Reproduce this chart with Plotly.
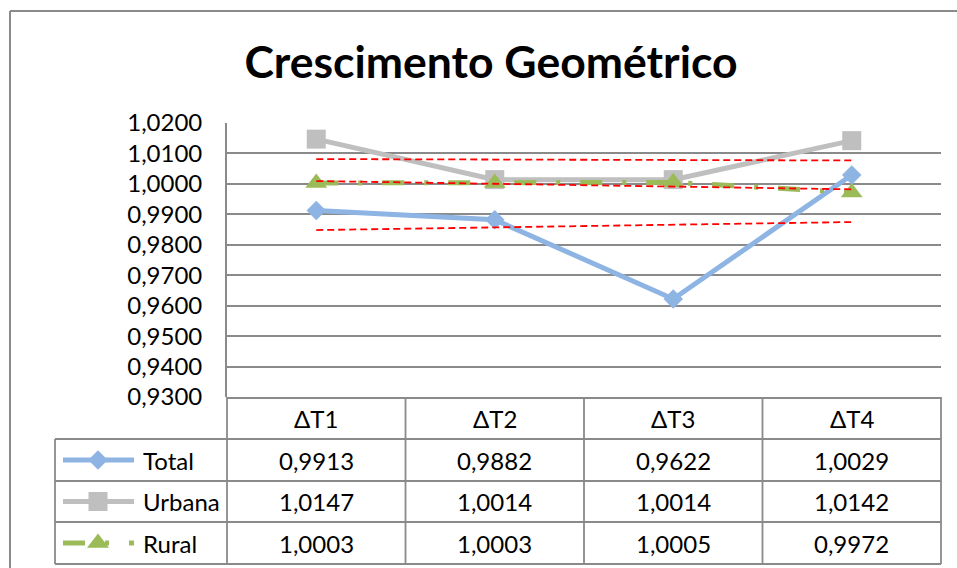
import numpy as np
import plotly.graph_objects as go

# ---------------- data ----------------
categories = ["ΔT1", "ΔT2", "ΔT3", "ΔT4"]
series_names = ["Total", "Urbana", "Rural"]
total = [0.9913, 0.9882, 0.9622, 1.0029]
urbana = [1.0147, 1.0014, 1.0014, 1.0142]
rural = [1.0003, 1.0003, 1.0005, 0.9972]
y_min, y_max, y_step = 0.93, 1.02, 0.01
title_text = "Crescimento Geométrico"

# ---------------- styles / geometry ----------------
W, H = 957, 568
PL, PR, PT, PB = 227, 941, 123, 397          # plot area (px)
ROWS = [398, 439, 481, 522, 564]              # table horizontal lines (px)
LEG_L = 55                                    # left edge of legend column
FONT = "Lato, 'Open Sans', sans-serif"
GRID = "#8A8A8A"
TXT = 24

styles = {
    "Total": dict(color="#8EB4E3", dash="solid", symbol="diamond", size=15),
    "Urbana": dict(color="#BFBFBF", dash="solid", symbol="square", size=19),
    "Rural": dict(color="#9BBB59", dash="22px,20px,4px,20px", symbol="triangle-up", size=19),
}
values = {"Total": total, "Urbana": urbana, "Rural": rural}


def fx(px):
    return px / W


def fy(py):
    return 1 - py / H


fig = go.Figure()

# series
for name in series_names:
    st = styles[name]
    fig.add_trace(go.Scatter(
        x=categories, y=values[name], name=name, mode="lines+markers",
        line=dict(color=st["color"], width=5, dash=st["dash"]),
        marker=dict(symbol=st["symbol"], size=st["size"], color=st["color"]),
        cliponaxis=False, showlegend=False,
    ))

# linear trendlines (computed from the data)
xi = np.arange(1, len(categories) + 1)
for name in series_names:
    coef = np.polyfit(xi, values[name], 1)
    fit = np.polyval(coef, xi)
    fig.add_trace(go.Scatter(
        x=categories, y=fit, name="Linear (" + name + ")", mode="lines",
        line=dict(color="#FF0000", width=1.8, dash="7px,4px"),
        showlegend=False, hoverinfo="skip",
    ))

# legend glyphs inside the data table (second axes over legend column)
row_mid = [(ROWS[i + 1] + ROWS[i + 2]) / 2 for i in range(3)]
for name, ym in zip(series_names, row_mid):
    st = styles[name]
    fig.add_trace(go.Scatter(
        x=[63, 134], y=[ym, ym], mode="lines", xaxis="x2", yaxis="y2",
        line=dict(color=st["color"], width=5, dash=st["dash"]),
        showlegend=False, hoverinfo="skip", cliponaxis=False,
    ))
    fig.add_trace(go.Scatter(
        x=[98], y=[ym], mode="markers", xaxis="x2", yaxis="y2",
        marker=dict(symbol=st["symbol"], size=st["size"], color=st["color"]),
        showlegend=False, hoverinfo="skip", cliponaxis=False,
    ))
    fig.add_annotation(
        xref="paper", yref="paper", x=fx(141), y=fy(ym), text=name,
        showarrow=False, xanchor="left", yanchor="middle",
        font=dict(family=FONT, size=TXT, color="black"),
    )

# table texts: headers and values positioned through the category axis
for c in categories:
    fig.add_annotation(
        xref="x", yref="paper", x=c, y=fy((ROWS[0] + ROWS[1]) / 2), text=c,
        showarrow=False, xanchor="center", yanchor="middle",
        font=dict(family=FONT, size=TXT, color="black"),
    )
for name, ym in zip(series_names, row_mid):
    for c, v in zip(categories, values[name]):
        fig.add_annotation(
            xref="x", yref="paper", x=c, y=fy(ym),
            text=f"{v:.4f}".replace(".", ","),
            showarrow=False, xanchor="center", yanchor="middle",
            font=dict(family=FONT, size=TXT, color="black"),
        )

# table grid lines
shapes = []
line = dict(color=GRID, width=1.8)
n = len(categories)
col_edges = [PL + (PR - PL) * i / n for i in range(n + 1)]
for i, yy in enumerate(ROWS):
    x0 = PL if i == 0 else LEG_L
    shapes.append(dict(type="line", xref="paper", yref="paper",
                       x0=fx(x0), x1=fx(PR), y0=fy(yy), y1=fy(yy), line=line))
for xe in col_edges:
    shapes.append(dict(type="line", xref="paper", yref="paper",
                       x0=fx(xe), x1=fx(xe), y0=fy(PB), y1=fy(ROWS[-1]), line=line))
shapes.append(dict(type="line", xref="paper", yref="paper",
                   x0=fx(LEG_L), x1=fx(LEG_L), y0=fy(ROWS[1]), y1=fy(ROWS[-1]), line=line))
# outer chart border
shapes.append(dict(type="line", xref="paper", yref="paper",
                   x0=fx(10), x1=fx(10), y0=fy(11), y1=-0.05,
                   line=dict(color="#8A8A8A", width=2)))
shapes.append(dict(type="line", xref="paper", yref="paper",
                   x0=fx(10), x1=1.05, y0=fy(11), y1=fy(11),
                   line=dict(color="#8A8A8A", width=2)))

fig.update_layout(
    width=W, height=H,
    margin=dict(l=0, r=0, t=0, b=0, pad=0, autoexpand=False),
    paper_bgcolor="white", plot_bgcolor="white",
    separators=",.",
    font=dict(family=FONT, size=TXT, color="black"),
    title=dict(text="<b>" + title_text + "</b>", x=fx(491), xanchor="center",
               y=fy(62), yanchor="middle",
               font=dict(family=FONT, size=44.5, color="black")),
    xaxis=dict(domain=[fx(PL), fx(PR)], type="category", range=[-0.5, n - 0.5],
               showgrid=False, showticklabels=False, ticks="", zeroline=False,
               showline=False, fixedrange=True, automargin=False),
    yaxis=dict(domain=[fy(PB), fy(PT)], range=[y_min, y_max], dtick=y_step,
               tick0=y_min, tickformat=".4f", showgrid=True, gridcolor=GRID,
               gridwidth=1.8, zeroline=False, showline=True, linecolor=GRID,
               linewidth=1.8, ticks="", ticklabelstandoff=18, automargin=False,
               tickfont=dict(family=FONT, size=TXT, color="black"), fixedrange=True),
    xaxis2=dict(domain=[fx(LEG_L), fx(PL)], range=[LEG_L, PL], visible=False,
                anchor="y2", fixedrange=True, automargin=False),
    yaxis2=dict(domain=[fy(ROWS[-1]), fy(ROWS[1])], range=[ROWS[-1], ROWS[1]],
                visible=False, anchor="x2", fixedrange=True, automargin=False),
    shapes=shapes,
)

fig.write_html("out.html", config={"displayModeBar": False},
               post_script="document.body.style.margin='0';")
